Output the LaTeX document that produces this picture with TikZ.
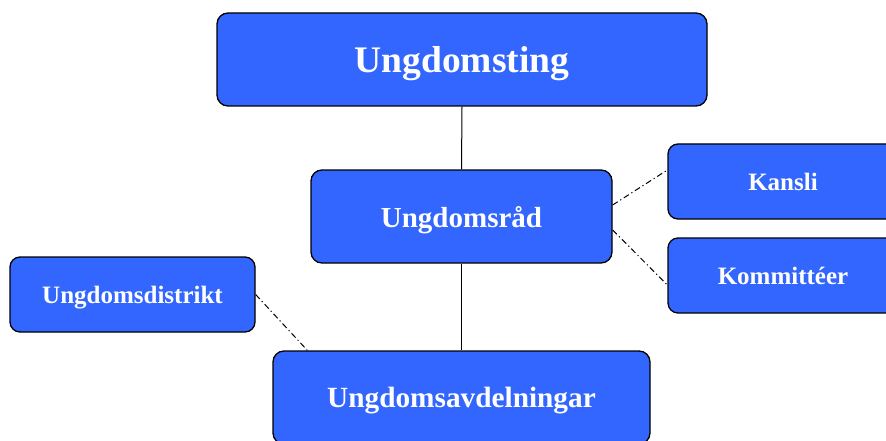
\documentclass[tikz,border=0pt]{standalone}
\usepackage{fontspec}
\setmainfont{Liberation Serif}
\definecolor{boxblue}{HTML}{3366FF}
\tikzset{
  orgbox/.style={draw=black, line width=1.3pt, fill=boxblue, rounded corners=11pt, text=white, font=\bfseries, inner sep=0pt, text depth=0pt},
  conn/.style={draw=black, line width=1pt},
  dconn/.style={draw=black, line width=1pt, dash pattern=on 6pt off 3pt on 1.2pt off 3pt}
}
\begin{document}
\begin{tikzpicture}[x=1pt,y=-1pt]
\useasboundingbox (0,0) rectangle (886,441);
\clip (0,0) rectangle (886,441);
\fill[white] (0,0) rectangle (886,441);
% boxes
\node[orgbox, minimum width=490pt, minimum height=93pt, font=\bfseries\fontsize{37.5}{40}\selectfont] (ting) at (462,59.5) {Ungdomsting};
\node[orgbox, minimum width=301pt, minimum height=93pt, font=\bfseries\fontsize{29}{32}\selectfont] (rad) at (461.5,216.5) {Ungdomsråd};
\node[orgbox, minimum width=230pt, minimum height=75pt, rounded corners=10pt, font=\bfseries\fontsize{25}{28}\selectfont] (kansli) at (783,181.5) {Kansli};
\node[orgbox, minimum width=230pt, minimum height=75pt, rounded corners=10pt, font=\bfseries\fontsize{25}{28}\selectfont] (komm) at (783,275.5) {Kommittéer};
\node[orgbox, minimum width=245pt, minimum height=75pt, rounded corners=10pt, font=\bfseries\fontsize{25}{28}\selectfont] (dist) at (132.5,294.5) {Ungdomsdistrikt};
\node[orgbox, minimum width=377pt, minimum height=93pt, font=\bfseries\fontsize{29.3}{32}\selectfont] (avd) at (461.5,397.5) {Ungdomsavdelningar};
% connectors
\draw[conn] (ting.south) -- (rad.north);
\draw[conn] (rad.south) -- (avd.north);
\coordinate (r1) at ([yshift=11.5pt]rad.east);
\coordinate (r2) at ([yshift=-13.5pt]rad.east);
\coordinate (k1) at ([yshift=11.5pt]kansli.west);
\coordinate (k2) at ([yshift=-9.5pt]komm.west);
\coordinate (a1) at ([xshift=35pt]avd.north west);
\draw[dconn] (r1) -- (k1);
\draw[dconn] (r2) -- (k2);
\draw[dconn] (dist.east) -- (a1);
\end{tikzpicture}
\end{document}
